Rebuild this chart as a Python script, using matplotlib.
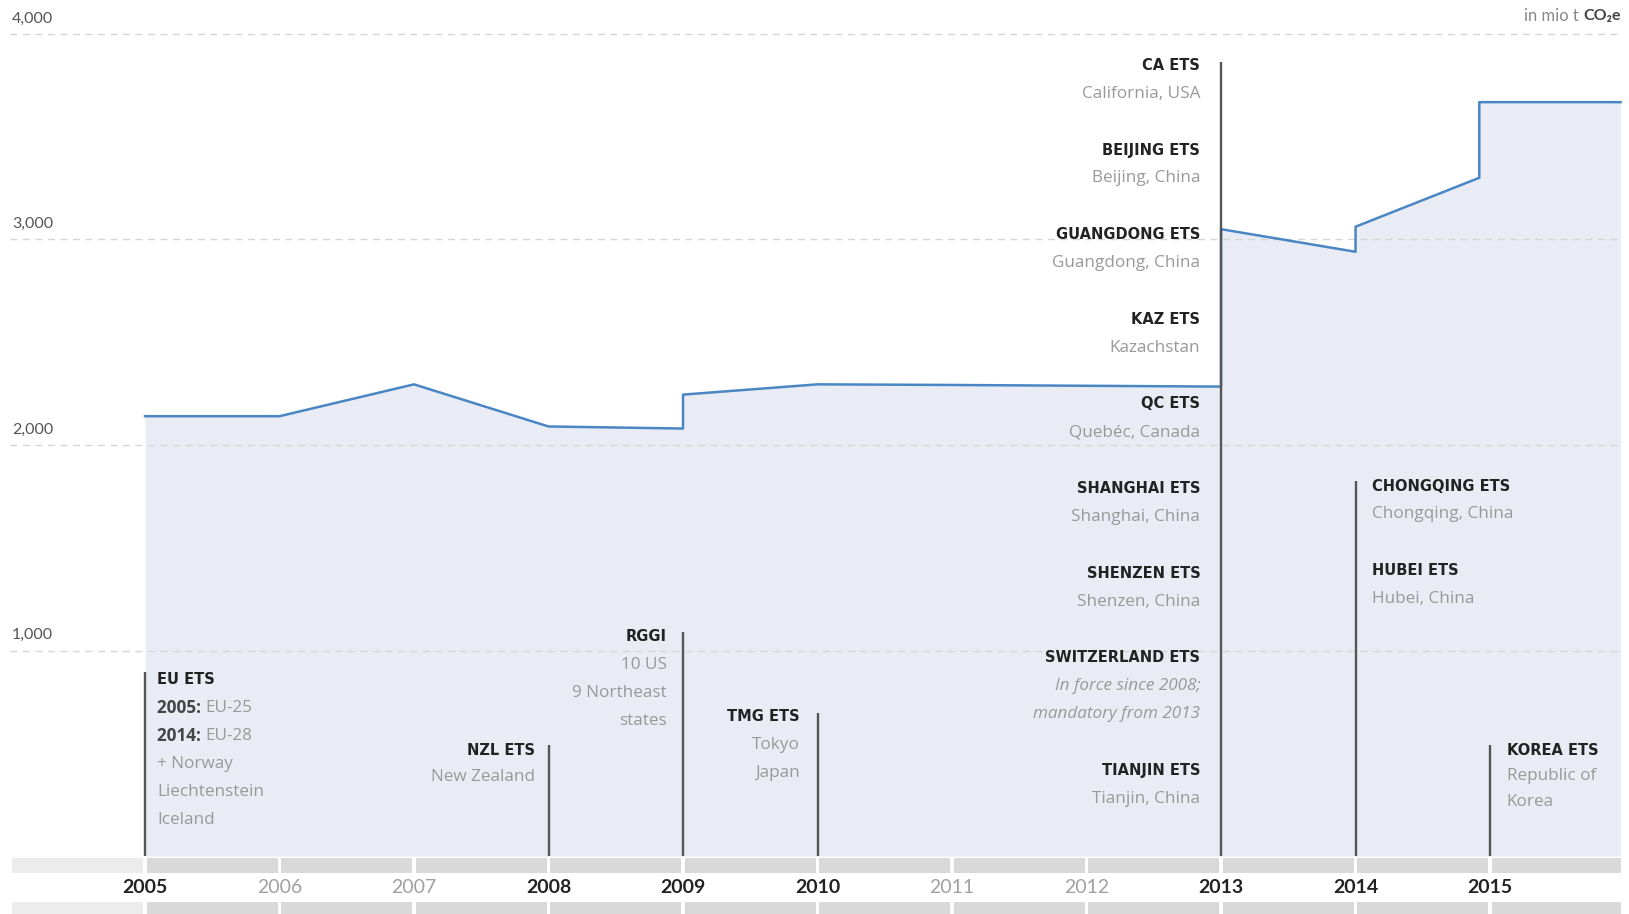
import matplotlib
matplotlib.use("Agg")
import matplotlib.pyplot as plt

# --- data -------------------------------------------------------------
years = list(range(2005, 2016))
bold_years = [2005, 2008, 2009, 2010, 2013, 2014, 2015]

# covered emissions (mio t CO2e), vertical jumps = new schemes starting
line_x = [2005, 2006, 2007, 2008, 2009, 2009, 2010, 2011, 2012, 2013, 2013,
          2014, 2014, 2014.92, 2014.92, 2015.97]
line_y = [2140, 2140, 2295, 2090, 2080, 2245, 2295, 2292, 2288, 2284, 3050,
          2940, 3062, 3300, 3668, 3668]

y_ticks = [1000, 2000, 3000, 4000]

launch_years = [2005, 2008, 2009, 2010, 2013, 2014, 2015]
launch_tops = [895, 540, 1090, 696, 3862, 1825, 540]

eu_ets = [["EU ETS", ("2005:", "EU-25"), ("2014:", "EU-28"),
           "+ Norway", "Liechtenstein", "Iceland"]]
nzl_ets = [["NZL ETS", "New Zealand"]]
rggi = [["RGGI", "10 US", "9 Northeast", "states"]]
tmg_ets = [["TMG ETS", "Tokyo", "Japan"]]
ets_2013 = [["CA ETS", "California, USA"],
            ["BEIJING ETS", "Beijing, China"],
            ["GUANGDONG ETS", "Guangdong, China"],
            ["KAZ ETS", "Kazachstan"],
            ["QC ETS", "Quebéc, Canada"],
            ["SHANGHAI ETS", "Shanghai, China"],
            ["SHENZEN ETS", "Shenzen, China"],
            ["SWITZERLAND ETS", "In force since 2008;", "mandatory from 2013"],
            ["TIANJIN ETS", "Tianjin, China"]]
ets_2014 = [["CHONGQING ETS", "Chongqing, China"],
            ["HUBEI ETS", "Hubei, China"]]
korea_ets = [["KOREA ETS", "Republic of", "Korea"]]
italic_lines = ["In force since 2008;", "mandatory from 2013"]

# --- style ------------------------------------------------------------
LINE = "#4a86c4"
FILL = "#e9ecf5"
DARK = "#222222"
GREY = "#999999"
TITLE_FONT = ["DejaVu Sans"]
BODY_FONT = ["Open Sans", "DejaVu Sans"]
YEAR_FONT = ["Lato", "DejaVu Sans"]

fig = plt.figure(figsize=(16.29, 9.14), dpi=100)
ax = fig.add_axes([0, 0, 1, 1])
ax.set_xlim(2003.922, 2016.033)
ax.set_ylim(-282, 4165)
ax.axis("off")

# gridlines + y labels
ax.hlines(y_ticks, 2004.0, 2015.97, colors="#d6d6d6", linewidth=1,
          linestyles=(0, (5, 4)), zorder=1)
for v in y_ticks:
    ax.text(2004.01, v + 40, f"{v:,}", ha="left", va="bottom", fontsize=11.5,
            color="#555555", family=YEAR_FONT)

# area + line
ax.fill_between(line_x, 0, line_y, color=FILL, linewidth=0, zorder=0)
ax.plot(line_x, line_y, color=LINE, linewidth=1.8, zorder=3)

# launch markers
ax.vlines(launch_years, 0, launch_tops, colors="#555555", linewidth=1.7, zorder=4)

# year bands
gap = 0.012
for yb in [(-83, 73), (-282, 58)]:
    ax.broken_barh([(2004.01, 0.99 - gap)], yb, facecolors="#ececec", zorder=2)
    segs = [(y + gap, 1 - 2 * gap) for y in years]
    segs[-1] = (2015 + gap, 0.97 - gap)
    ax.broken_barh(segs, yb, facecolors="#d9d9d9", zorder=2)

for y in years:
    if y in bold_years:
        ax.text(y, -152, str(y), ha="center", va="center", fontsize=14,
                fontweight="bold", color=DARK, family=YEAR_FONT)
    else:
        ax.text(y, -152, str(y), ha="center", va="center", fontsize=14,
                color="#a0a0a0", family=YEAR_FONT)

# unit label
t_unit = ax.text(2015.97, 4165 - 80, "CO\u2082e", ha="right", va="center",
                 fontsize=11.5, fontweight="bold", color="#444444",
                 family=YEAR_FONT)
ax.annotate("in mio t ", xy=(0, 0.5), xycoords=t_unit, ha="right", va="center",
            fontsize=12, color="#888888", family=YEAR_FONT)


def stack(x, groups, top, side, step=137):
    ha = "left" if side == "left" else "right"
    y = top
    for group in groups:
        for i, line in enumerate(group):
            if i == 0:
                ax.text(x, y, line, ha=ha, va="center", fontsize=10.5,
                        fontweight="bold", color=DARK, family=TITLE_FONT, zorder=5)
            elif isinstance(line, tuple):
                t = ax.text(x, y, line[0] + " ", ha=ha, va="center", fontsize=12.3,
                            fontweight="bold", color="#444444", family=BODY_FONT, zorder=5)
                ax.annotate(line[1], xy=(1, 0.5), xycoords=t, ha="left", va="center",
                            fontsize=12.3, color=GREY, family=BODY_FONT, zorder=5)
            else:
                style = "italic" if line in italic_lines else "normal"
                ax.text(x, y, line, ha=ha, va="center", fontsize=12.3, color=GREY,
                        fontstyle=style, family=BODY_FONT, zorder=5)
            y -= step
        y -= step


stack(2005.09, eu_ets, 859, "left")
stack(2007.90, nzl_ets, 515, "right", step=132)
stack(2008.88, rggi, 1066, "right")
stack(2009.87, tmg_ets, 677, "right")
stack(2012.846, ets_2013, 3847, "right", step=137.3)
stack(2014.12, ets_2014, 1799, "left", step=136.5)
stack(2015.125, korea_ets, 515, "left", step=126)

fig.savefig("out.png", dpi=100, facecolor="white")
